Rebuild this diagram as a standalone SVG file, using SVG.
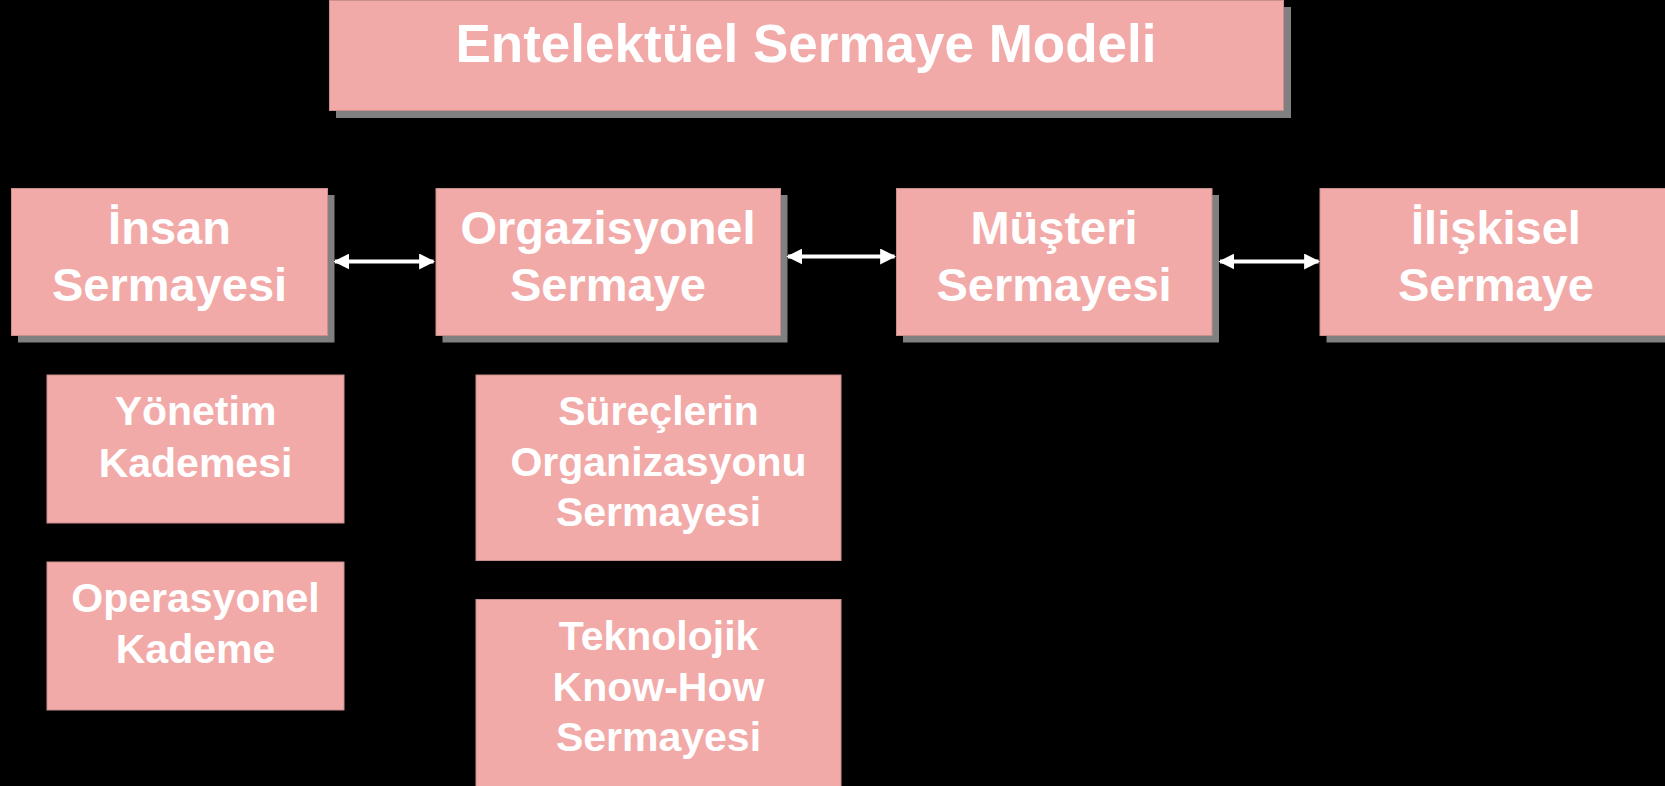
<svg xmlns="http://www.w3.org/2000/svg" width="1665" height="786" viewBox="0 0 1665 786">
  <defs>
    <marker id="head" viewBox="0 0 10 10" refX="9" refY="5" markerWidth="4" markerHeight="4" orient="auto-start-reverse" markerUnits="strokeWidth">
      <path d="M0,0 L10,5 L0,10 Z" fill="#ffffff"/>
    </marker>
  </defs>
  <style>
    .box { fill: #f2aaa9; stroke: #c98f8e; stroke-width: 1; }
    .shadow { fill: #808080; }
    .lbl { font-family: "Liberation Sans", Arial, sans-serif; font-weight: bold; fill: #ffffff; text-anchor: middle; }
    .big { font-size: 47px; }
    .small { font-size: 41px; }
    .title { font-size: 53px; }
    .link { stroke: #ffffff; stroke-width: 4; fill: none; marker-start: url(#head); marker-end: url(#head); }
  </style>
  <rect width="1665" height="786" fill="#000000"/>

  <g id="title">
    <rect class="shadow" x="336" y="7" width="955" height="111"/>
    <rect class="box" x="329.5" y="0.5" width="954" height="110"/>
    <text class="lbl title" x="806" y="62">Entelektüel Sermaye Modeli</text>
  </g>

  <g id="insan">
    <rect class="shadow" x="18" y="195" width="316.5" height="147.5"/>
    <rect class="box" x="11.5" y="188.5" width="316" height="147"/>
    <text class="lbl big" x="169.5" y="243.5">İnsan</text>
    <text class="lbl big" x="169.5" y="300.5">Sermayesi</text>
  </g>

  <g id="organizasyonel">
    <rect class="shadow" x="442.5" y="195" width="345" height="147.5"/>
    <rect class="box" x="436" y="188.5" width="344.5" height="147"/>
    <text class="lbl big" x="608" y="243.5">Orgazisyonel</text>
    <text class="lbl big" x="608" y="300.5">Sermaye</text>
  </g>

  <g id="musteri">
    <rect class="shadow" x="903" y="195" width="316" height="147.5"/>
    <rect class="box" x="896.5" y="188.5" width="315.5" height="147"/>
    <text class="lbl big" x="1054" y="243.5">Müşteri</text>
    <text class="lbl big" x="1054" y="300.5">Sermayesi</text>
  </g>

  <g id="iliskisel">
    <rect class="shadow" x="1326.5" y="195" width="352" height="147.5"/>
    <rect class="box" x="1320" y="188.5" width="352" height="147"/>
    <text class="lbl big" x="1496" y="243.5">İlişkisel</text>
    <text class="lbl big" x="1496" y="300.5">Sermaye</text>
  </g>

  <g id="yonetim">
    <rect class="box" x="47" y="375" width="297" height="148"/>
    <text class="lbl small" x="195.5" y="425">Yönetim</text>
    <text class="lbl small" x="195.5" y="476.5">Kademesi</text>
  </g>

  <g id="operasyonel">
    <rect class="box" x="47" y="562" width="297" height="148"/>
    <text class="lbl small" x="195.5" y="611.5">Operasyonel</text>
    <text class="lbl small" x="195.5" y="663">Kademe</text>
  </g>

  <g id="surecler">
    <rect class="box" x="476" y="375" width="365" height="185.5"/>
    <text class="lbl small" x="658.5" y="425">Süreçlerin</text>
    <text class="lbl small" x="658.5" y="476">Organizasyonu</text>
    <text class="lbl small" x="658.5" y="526">Sermayesi</text>
  </g>

  <g id="teknoloji">
    <rect class="box" x="476" y="599.5" width="365" height="200"/>
    <text class="lbl small" x="658.5" y="649.5">Teknolojik</text>
    <text class="lbl small" x="658.5" y="700.5">Know-How</text>
    <text class="lbl small" x="658.5" y="751">Sermayesi</text>
  </g>

  <g id="connectors">
    <line class="link" x1="335" y1="261.5" x2="433.5" y2="261.5"/>
    <line class="link" x1="788" y1="256.5" x2="894.5" y2="256.5"/>
    <line class="link" x1="1220" y1="261.5" x2="1318.5" y2="261.5"/>
  </g>
</svg>
